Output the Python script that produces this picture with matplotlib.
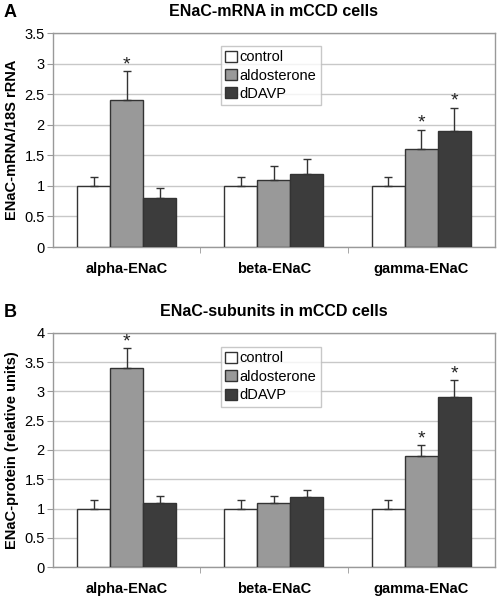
import numpy as np
import matplotlib
matplotlib.use('Agg')
import matplotlib.pyplot as plt

plt.rcParams['font.family'] = ['Liberation Sans', 'DejaVu Sans']

# data
categories = ['alpha-ENaC', 'beta-ENaC', 'gamma-ENaC']
groups = ['control', 'aldosterone', 'dDAVP']
colors = ['#ffffff', '#999999', '#3c3c3c']

mrna_vals = [[1.0, 1.0, 1.0], [2.4, 1.1, 1.6], [0.8, 1.2, 1.9]]
mrna_err = [[0.15, 0.15, 0.15], [0.48, 0.22, 0.32], [0.16, 0.24, 0.38]]
mrna_star = [[False, False, False], [True, False, True], [False, False, True]]

prot_vals = [[1.0, 1.0, 1.0], [3.4, 1.1, 1.9], [1.1, 1.2, 2.9]]
prot_err = [[0.15, 0.15, 0.15], [0.34, 0.11, 0.19], [0.11, 0.12, 0.29]]
prot_star = [[False, False, False], [True, False, True], [False, False, True]]


def panel(ax, vals, errs, stars, ymax, ystep, title, ylabel, letter):
    x = np.arange(len(categories))
    w = 0.224
    for i, g in enumerate(groups):
        pos = x + (i - 1) * w
        ax.bar(pos, vals[i], w, color=colors[i], edgecolor='#333333', linewidth=1.0,
               label=g, zorder=3)
        ax.errorbar(pos, vals[i], yerr=[np.zeros(3), errs[i]], fmt='none', ecolor='#333333',
                    elinewidth=1.0, capsize=3, capthick=1.0, zorder=4)
        for j in range(3):
            if stars[i][j]:
                ax.text(pos[j], vals[i][j] + errs[i][j] - ymax * 0.01, '*', ha='center',
                        va='bottom', fontsize=14, color='#222222')
    ax.set_xlim(-0.5, 2.5)
    ax.set_ylim(0, ymax)
    yt = np.arange(0, ymax + 0.001, ystep)
    ax.set_yticks(yt)
    ax.set_yticklabels(['%g' % v for v in yt])
    ax.yaxis.grid(True, color='#c8c8c8', linewidth=1.0, zorder=0)
    ax.set_axisbelow(True)
    ax.set_xticks(x)
    ax.set_xticklabels(categories, fontweight='bold', fontsize=10.5)
    ax.set_xticks([0.5, 1.5], minor=True)
    ax.tick_params(axis='x', which='major', length=0, pad=11)
    ax.tick_params(axis='x', which='minor', length=4, color='#999999')
    ax.tick_params(axis='y', length=4, color='#999999', labelsize=10.5, pad=2)
    for s in ax.spines.values():
        s.set_color('#999999')
        s.set_linewidth(1.0)
    ax.set_title(title, fontweight='bold', fontsize=11.5, pad=12)
    ax.set_ylabel(ylabel, fontweight='bold', fontsize=10.5, labelpad=4)
    leg = ax.legend(loc='upper left', bbox_to_anchor=(0.38, 0.94), fontsize=10.5,
                    frameon=True, fancybox=False, handlelength=0.8, handleheight=0.8,
                    handletextpad=0.2, borderpad=0.3, labelspacing=0.3, borderaxespad=0)
    leg.get_frame().set_edgecolor('#bbbbbb')
    leg.get_frame().set_linewidth(1.0)
    ax.figure.text(0.008, ax.get_position().y1 + 0.035, letter, fontweight='bold',
                   fontsize=13, ha='left', va='center')


fig = plt.figure(figsize=(4.97, 5.99), dpi=100)
axA = fig.add_axes([0.1066, 0.5876, 0.889, 0.3573])
axB = fig.add_axes([0.1066, 0.0534, 0.889, 0.3907])

panel(axA, mrna_vals, mrna_err, mrna_star, 3.5, 0.5, 'ENaC-mRNA in mCCD cells',
      'ENaC-mRNA/18S rRNA', 'A')
panel(axB, prot_vals, prot_err, prot_star, 4.0, 0.5, 'ENaC-subunits in mCCD cells',
      'ENaC-protein (relative units)', 'B')

fig.savefig('out.png', dpi=100)
